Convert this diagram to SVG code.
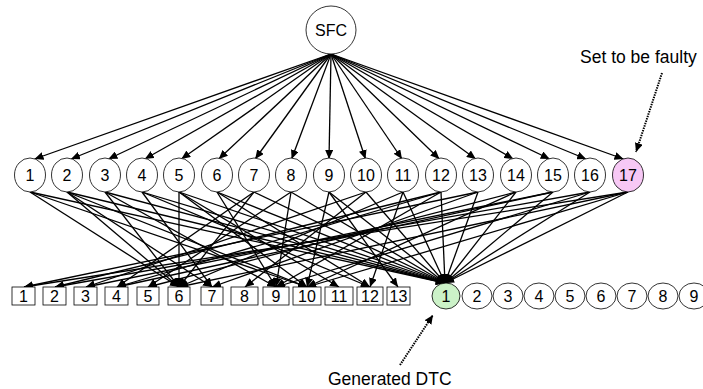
<svg xmlns="http://www.w3.org/2000/svg" width="703" height="389" viewBox="0 0 703 389">
  <style>
    .node { fill: #ffffff; stroke: #000000; stroke-width: 0.8; }
    .faulty { fill: #f7c8f5; }
    .dtc { fill: #ccf2c8; }
    .lbl { font-family: "Liberation Sans", Arial, sans-serif; font-size: 16px; fill: #000000; text-anchor: middle; }
    .ann { font-family: "Liberation Sans", Arial, sans-serif; font-size: 17.5px; fill: #000000; }
    .edge { stroke: #000000; stroke-width: 1.3; fill: none; marker-end: url(#arrow); }
    .note { stroke: #000000; stroke-width: 2; stroke-dasharray: 1.5 1; fill: none; marker-end: url(#arrow); }
  </style>
  <defs>
    <marker id="arrow" markerUnits="userSpaceOnUse" markerWidth="10" markerHeight="8" refX="9" refY="4" orient="auto">
      <path d="M0,0 L9,4 L0,8 z" fill="#000000"/>
    </marker>
  </defs>
  <rect width="703" height="389" fill="#ffffff"/>

  <g id="connectors">
    <!-- SFC to fault nodes -->
    <line class="edge" x1="331" y1="54" x2="34.5" y2="159"/>
    <line class="edge" x1="331" y1="54" x2="71" y2="159"/>
    <line class="edge" x1="331" y1="54" x2="108.4" y2="159"/>
    <line class="edge" x1="331" y1="54" x2="144.8" y2="159"/>
    <line class="edge" x1="331" y1="54" x2="181.3" y2="159"/>
    <line class="edge" x1="331" y1="54" x2="218.7" y2="159"/>
    <line class="edge" x1="331" y1="54" x2="255.2" y2="159"/>
    <line class="edge" x1="331" y1="54" x2="291.6" y2="159"/>
    <line class="edge" x1="331" y1="54" x2="329" y2="159"/>
    <line class="edge" x1="331" y1="54" x2="365.5" y2="159"/>
    <line class="edge" x1="331" y1="54" x2="402" y2="159"/>
    <line class="edge" x1="331" y1="54" x2="439.4" y2="159"/>
    <line class="edge" x1="331" y1="54" x2="475.8" y2="159"/>
    <line class="edge" x1="331" y1="54" x2="513.3" y2="159"/>
    <line class="edge" x1="331" y1="54" x2="549.7" y2="159"/>
    <line class="edge" x1="331" y1="54" x2="586.1" y2="159"/>
    <line class="edge" x1="331" y1="54" x2="623.5" y2="159" stroke-width="2.2"/>

    <!-- fault nodes to tests -->
    <line class="edge" x1="30" y1="192" x2="179" y2="287"/>
    <line class="edge" x1="30" y1="192" x2="307" y2="287"/>
    <line class="edge" x1="67" y1="192" x2="179" y2="287"/>
    <line class="edge" x1="67" y1="192" x2="212" y2="287"/>
    <line class="edge" x1="67" y1="192" x2="307" y2="287"/>
    <line class="edge" x1="105" y1="192" x2="179" y2="287"/>
    <line class="edge" x1="105" y1="192" x2="276" y2="287"/>
    <line class="edge" x1="142" y1="192" x2="212" y2="287"/>
    <line class="edge" x1="142" y1="192" x2="370" y2="287"/>
    <line class="edge" x1="179" y1="192" x2="179" y2="287"/>
    <line class="edge" x1="179" y1="192" x2="307" y2="287"/>
    <line class="edge" x1="179" y1="192" x2="339" y2="287"/>
    <line class="edge" x1="217" y1="192" x2="276" y2="287"/>
    <line class="edge" x1="217" y1="192" x2="370" y2="287"/>
    <line class="edge" x1="254" y1="192" x2="117" y2="287"/>
    <line class="edge" x1="254" y1="192" x2="179" y2="287"/>
    <line class="edge" x1="291" y1="192" x2="148" y2="287"/>
    <line class="edge" x1="291" y1="192" x2="276" y2="287"/>
    <line class="edge" x1="329" y1="192" x2="307" y2="287"/>
    <line class="edge" x1="329" y1="192" x2="398" y2="287"/>
    <line class="edge" x1="366" y1="192" x2="86" y2="287"/>
    <line class="edge" x1="366" y1="192" x2="245" y2="287"/>
    <line class="edge" x1="403" y1="192" x2="179" y2="287"/>
    <line class="edge" x1="403" y1="192" x2="370" y2="287"/>
    <line class="edge" x1="441" y1="192" x2="55" y2="287"/>
    <line class="edge" x1="441" y1="192" x2="117" y2="287"/>
    <line class="edge" x1="441" y1="192" x2="276" y2="287"/>
    <line class="edge" x1="478" y1="192" x2="24" y2="287"/>
    <line class="edge" x1="478" y1="192" x2="212" y2="287"/>
    <line class="edge" x1="516" y1="192" x2="148" y2="287"/>
    <line class="edge" x1="516" y1="192" x2="307" y2="287"/>
    <line class="edge" x1="553" y1="192" x2="86" y2="287"/>
    <line class="edge" x1="553" y1="192" x2="117" y2="287"/>
    <line class="edge" x1="590" y1="192" x2="55" y2="287"/>
    <line class="edge" x1="590" y1="192" x2="276" y2="287"/>
    <line class="edge" x1="628" y1="192" x2="24" y2="287"/>
    <line class="edge" x1="628" y1="192" x2="179" y2="287"/>
    <line class="edge" x1="628" y1="192" x2="307" y2="287"/>

    <!-- fault nodes to generated DTC -->
    <line class="edge" x1="30" y1="192" x2="445" y2="283"/>
    <line class="edge" x1="67" y1="192" x2="445" y2="283"/>
    <line class="edge" x1="105" y1="192" x2="445" y2="283"/>
    <line class="edge" x1="142" y1="192" x2="445" y2="283"/>
    <line class="edge" x1="179" y1="192" x2="445" y2="283"/>
    <line class="edge" x1="217" y1="192" x2="445" y2="283"/>
    <line class="edge" x1="254" y1="192" x2="445" y2="283"/>
    <line class="edge" x1="291" y1="192" x2="445" y2="283"/>
    <line class="edge" x1="329" y1="192" x2="445" y2="283"/>
    <line class="edge" x1="366" y1="192" x2="445" y2="283"/>
    <line class="edge" x1="403" y1="192" x2="445" y2="283"/>
    <line class="edge" x1="441" y1="192" x2="445" y2="283"/>
    <line class="edge" x1="478" y1="192" x2="445" y2="283"/>
    <line class="edge" x1="516" y1="192" x2="445" y2="283"/>
    <line class="edge" x1="553" y1="192" x2="445" y2="283"/>
    <line class="edge" x1="590" y1="192" x2="445" y2="283"/>
    <line class="edge" x1="628" y1="192" x2="445" y2="283"/>

    <!-- annotation pointers -->
    <line class="note" x1="662" y1="73" x2="636" y2="152"/>
    <line class="note" x1="400" y1="365" x2="433" y2="315"/>
  </g>

  <g id="sfc">
    <ellipse class="node" cx="331" cy="30" rx="25" ry="24"/>
    <text class="lbl" x="331" y="36" font-size="17">SFC</text>
  </g>

  <g id="f1"><ellipse class="node" cx="30" cy="175" rx="15.5" ry="17"/><text class="lbl" x="30" y="181">1</text></g>
  <g id="f2"><ellipse class="node" cx="67" cy="175" rx="15.5" ry="17"/><text class="lbl" x="67" y="181">2</text></g>
  <g id="f3"><ellipse class="node" cx="105" cy="175" rx="15.5" ry="17"/><text class="lbl" x="105" y="181">3</text></g>
  <g id="f4"><ellipse class="node" cx="142" cy="175" rx="15.5" ry="17"/><text class="lbl" x="142" y="181">4</text></g>
  <g id="f5"><ellipse class="node" cx="179" cy="175" rx="15.5" ry="17"/><text class="lbl" x="179" y="181">5</text></g>
  <g id="f6"><ellipse class="node" cx="217" cy="175" rx="15.5" ry="17"/><text class="lbl" x="217" y="181">6</text></g>
  <g id="f7"><ellipse class="node" cx="254" cy="175" rx="15.5" ry="17"/><text class="lbl" x="254" y="181">7</text></g>
  <g id="f8"><ellipse class="node" cx="291" cy="175" rx="15.5" ry="17"/><text class="lbl" x="291" y="181">8</text></g>
  <g id="f9"><ellipse class="node" cx="329" cy="175" rx="15.5" ry="17"/><text class="lbl" x="329" y="181">9</text></g>
  <g id="f10"><ellipse class="node" cx="366" cy="175" rx="15.5" ry="17"/><text class="lbl" x="366" y="181">10</text></g>
  <g id="f11"><ellipse class="node" cx="403" cy="175" rx="15.5" ry="17"/><text class="lbl" x="403" y="181">11</text></g>
  <g id="f12"><ellipse class="node" cx="441" cy="175" rx="15.5" ry="17"/><text class="lbl" x="441" y="181">12</text></g>
  <g id="f13"><ellipse class="node" cx="478" cy="175" rx="15.5" ry="17"/><text class="lbl" x="478" y="181">13</text></g>
  <g id="f14"><ellipse class="node" cx="516" cy="175" rx="15.5" ry="17"/><text class="lbl" x="516" y="181">14</text></g>
  <g id="f15"><ellipse class="node" cx="553" cy="175" rx="15.5" ry="17"/><text class="lbl" x="553" y="181">15</text></g>
  <g id="f16"><ellipse class="node" cx="590" cy="175" rx="15.5" ry="17"/><text class="lbl" x="590" y="181">16</text></g>
  <g id="f17"><ellipse class="node faulty" cx="628" cy="175" rx="15.5" ry="17"/><text class="lbl" x="628" y="181">17</text></g>

  <g id="t1"><rect class="node" x="12" y="287" width="23" height="18"/><text class="lbl" x="23.5" y="302">1</text></g>
  <g id="t2"><rect class="node" x="43" y="287" width="23" height="18"/><text class="lbl" x="54.5" y="302">2</text></g>
  <g id="t3"><rect class="node" x="74" y="287" width="23" height="18"/><text class="lbl" x="85.5" y="302">3</text></g>
  <g id="t4"><rect class="node" x="105" y="287" width="23" height="18"/><text class="lbl" x="116.5" y="302">4</text></g>
  <g id="t5"><rect class="node" x="137" y="287" width="22" height="18"/><text class="lbl" x="148" y="302">5</text></g>
  <g id="t6"><rect class="node" x="168" y="287" width="22" height="18"/><text class="lbl" x="179" y="302">6</text></g>
  <g id="t7"><rect class="node" x="201" y="287" width="22" height="18"/><text class="lbl" x="212" y="302">7</text></g>
  <g id="t8"><rect class="node" x="231" y="287" width="27" height="18"/><text class="lbl" x="244.5" y="302">8</text></g>
  <g id="t9"><rect class="node" x="263" y="287" width="26" height="18"/><text class="lbl" x="276" y="302">9</text></g>
  <g id="t10"><rect class="node" x="293" y="287" width="28" height="18"/><text class="lbl" x="307" y="302">10</text></g>
  <g id="t11"><rect class="node" x="325" y="287" width="28" height="18"/><text class="lbl" x="339" y="302">11</text></g>
  <g id="t12"><rect class="node" x="357" y="287" width="26" height="18"/><text class="lbl" x="370" y="302">12</text></g>
  <g id="t13"><rect class="node" x="387" y="287" width="23" height="18"/><text class="lbl" x="398.5" y="302">13</text></g>

  <g id="d1"><ellipse class="node dtc" cx="446" cy="296" rx="14" ry="13"/><text class="lbl" x="446" y="301.5">1</text></g>
  <g id="d2"><ellipse class="node" cx="477" cy="296" rx="15" ry="13"/><text class="lbl" x="477" y="301.5">2</text></g>
  <g id="d3"><ellipse class="node" cx="508" cy="296" rx="15" ry="13"/><text class="lbl" x="508" y="301.5">3</text></g>
  <g id="d4"><ellipse class="node" cx="539" cy="296" rx="15" ry="13"/><text class="lbl" x="539" y="301.5">4</text></g>
  <g id="d5"><ellipse class="node" cx="570" cy="296" rx="15" ry="13"/><text class="lbl" x="570" y="301.5">5</text></g>
  <g id="d6"><ellipse class="node" cx="601" cy="296" rx="15" ry="13"/><text class="lbl" x="601" y="301.5">6</text></g>
  <g id="d7"><ellipse class="node" cx="632" cy="296" rx="15" ry="13"/><text class="lbl" x="632" y="301.5">7</text></g>
  <g id="d8"><ellipse class="node" cx="663" cy="296" rx="15" ry="13"/><text class="lbl" x="663" y="301.5">8</text></g>
  <g id="d9"><ellipse class="node" cx="694" cy="296" rx="15" ry="13"/><text class="lbl" x="694" y="301.5">9</text></g>

  <g id="note-faulty"><text class="ann" x="580" y="63">Set to be faulty</text></g>
  <g id="note-dtc"><text class="ann" x="328" y="385">Generated DTC</text></g>
</svg>
